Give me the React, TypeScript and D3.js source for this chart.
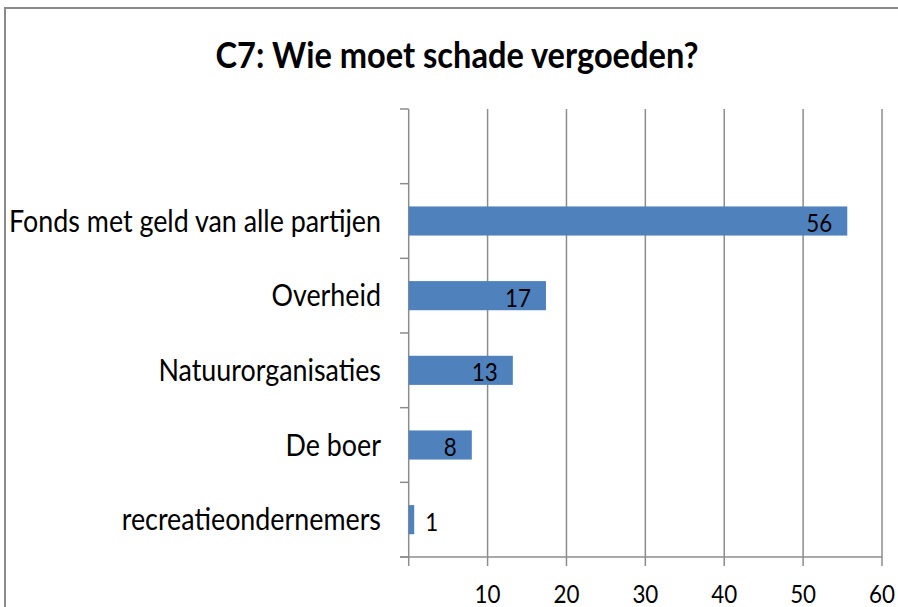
import React from 'react';
import * as d3 from 'd3';

// chart data (bar lengths, labels are rounded)
const categories = [
  'Fonds met geld van alle partijen',
  'Overheid',
  'Natuurorganisaties',
  'De boer',
  'recreatieondernemers',
];
const values = [55.6, 17.4, 13.2, 8.0, 0.7];
const xTicks = [0, 10, 20, 30, 40, 50, 60];
const title = 'C7: Wie moet schade vergoeden?';

const W = 898;
const H = 607;
const FONT = 'Lato, "Open Sans", sans-serif';
const SX = 0.895; // text is horizontally squeezed in the reference

const App = () => {
  const left = 408.7;
  const right = 882;
  const top = 109;
  const bottom = 557;

  const x = d3.scaleLinear().domain([0, 60]).range([left, right]);
  // first slot is an empty category, like in the original
  const y = d3.scaleBand().domain(['', ...categories]).range([top, bottom]).padding(0);
  const bw = y.bandwidth();
  const barH = bw * 0.39;
  const grid = '#8c8c8c';

  const sq = (tx: number, ty: number, s = SX) => `translate(${tx},${ty}) scale(${s},1)`;

  return (
    <svg width={W} height={H} style={{ position: 'absolute', left: 0, top: 0, background: '#fff' }}>
      <rect x={0} y={0} width={W} height={H} fill="#fff" />
      {/* chart frame */}
      <rect x={5} y={8} width={W + 20} height={H + 20} fill="none" stroke="#8a8a8a" strokeWidth={2} />

      <text transform={sq(457, 68, 0.905)} textAnchor="middle" fontFamily={FONT} fontWeight="bold" fontSize={36} fill="#000">
        {title}
      </text>

      {/* vertical gridlines */}
      {xTicks.slice(1).map((t) => (
        <line key={'g' + t} x1={x(t)} x2={x(t)} y1={top} y2={bottom} stroke={grid} strokeWidth={1.5} />
      ))}

      {/* y axis */}
      <line x1={left} x2={left} y1={top} y2={bottom} stroke={grid} strokeWidth={1.5} />
      {[...y.domain().map((c) => y(c) as number), bottom].map((p, i) => (
        <line key={'yt' + i} x1={left - 8.7} x2={left} y1={p} y2={p} stroke={grid} strokeWidth={1.5} />
      ))}

      {/* x axis */}
      <line x1={left - 8.7} x2={right} y1={bottom} y2={bottom} stroke={grid} strokeWidth={1.5} />
      {xTicks.map((t) => (
        <line key={'xt' + t} x1={x(t)} x2={x(t)} y1={bottom} y2={bottom + 9} stroke={grid} strokeWidth={1.5} />
      ))}
      {xTicks.filter((t) => t > 0).map((t) => (
        <text key={'xl' + t} transform={sq(x(t), 603)} textAnchor="middle" fontFamily={FONT} fontSize={25} fill="#000">
          {t}
        </text>
      ))}

      {/* bars */}
      {categories.map((c, i) => {
        const cy = (y(c) as number) + bw / 2;
        const x1 = x(values[i]);
        const wBar = x1 - x(0);
        const inside = wBar > 40;
        return (
          <g key={c}>
            <rect x={x(0)} y={cy - barH / 2} width={wBar} height={barH} fill="#4f81bd" />
            <text
              transform={sq(inside ? x1 - 15 : x1 + 11, cy + 11)}
              textAnchor={inside ? 'end' : 'start'}
              fontFamily={FONT}
              fontSize={25}
              fill="#000"
            >
              {Math.round(values[i])}
            </text>
            <text transform={sq(381, cy + 10.5)} textAnchor="end" fontFamily={FONT} fontSize={30} fill="#000">
              {c}
            </text>
          </g>
        );
      })}
    </svg>
  );
};

export default App;
